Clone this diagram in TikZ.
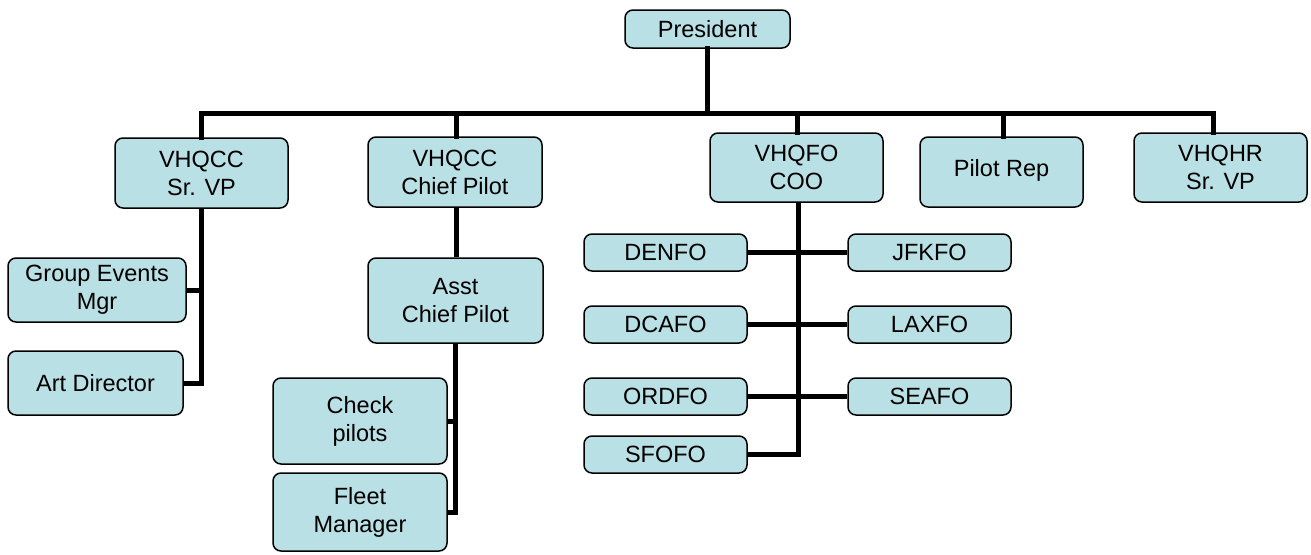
\documentclass[tikz,border=0pt]{standalone}
\usepackage{fontspec}
\setmainfont{Liberation Sans}
\definecolor{boxfill}{RGB}{185,224,228}
\begin{document}
\begin{tikzpicture}[x=1pt,y=-1pt,
  box/.style={draw=black, line width=1.5pt, fill=boxfill, rounded corners=8pt,
    align=center, inner sep=0pt, font=\fontsize{23.5}{28}\selectfont},
  conn/.style={line width=5pt, line cap=rect}]
\useasboundingbox (0,0) rectangle (1311,554);
\coordinate (barL) at (202,113);
\coordinate (barR) at (1213,113);
% nodes
\node[box, minimum width=165pt, minimum height=38pt] (pres) at (707.5,29) {President};
\node[box, minimum width=173pt, minimum height=70pt] (vp) at (201.5,173) {VHQCC\\Sr. VP};
\node[box, minimum width=174pt, minimum height=70pt] (cp) at (455,172) {VHQCC\\Chief Pilot};
\node[box, minimum width=175pt, minimum height=85pt] (asst) at (455.5,300.5) {Asst\\Chief Pilot};
\node[box, minimum width=174pt, minimum height=86pt] (check) at (360,421) {Check\\pilots};
\node[box, minimum width=174pt, minimum height=78pt] (fleet) at (360,512) {Fleet\\Manager};
\node[box, minimum width=178pt, minimum height=64pt] (gem) at (97,290) {Group Events\\Mgr};
\node[box, minimum width=175pt, minimum height=64pt] (art) at (95.5,383) {Art Director};
\node[box, minimum width=173pt, minimum height=69pt] (coo) at (796.5,167.5) {VHQFO\\COO};
\node[box, minimum width=163pt, minimum height=37pt] (denfo) at (665.5,252.5) {DENFO};
\node[box, minimum width=163pt, minimum height=37pt] (jfkfo) at (929.5,252.5) {JFKFO};
\node[box, minimum width=163pt, minimum height=37pt] (dcafo) at (665.5,324.5) {DCAFO};
\node[box, minimum width=163pt, minimum height=37pt] (laxfo) at (929.5,324.5) {LAXFO};
\node[box, minimum width=163pt, minimum height=37pt] (ordfo) at (665.5,396.5) {ORDFO};
\node[box, minimum width=163pt, minimum height=37pt] (seafo) at (929.5,396.5) {SEAFO};
\node[box, minimum width=163pt, minimum height=37pt] (sfofo) at (665.5,454.5) {SFOFO};
\node[box, minimum width=163pt, minimum height=70pt] (prep) at (1001.5,172) {\raisebox{9pt}{Pilot Rep}};
\node[box, minimum width=173pt, minimum height=69pt] (hr) at (1220.5,167.5) {VHQHR\\Sr. VP};
% connectors
\draw[conn] (barL) -- (barR);
\draw[conn] (pres.south) -- (pres.south |- barL);
\draw[conn] (vp.north) -- (vp.north |- barL);
\draw[conn] ([xshift=1pt]cp.north) -- ([xshift=1pt]cp.north |- barL);
\draw[conn] ([xshift=1pt]coo.north) -- ([xshift=1pt]coo.north |- barL);
\draw[conn] ([xshift=1.5pt]prep.north) -- ([xshift=1.5pt]prep.north |- barL);
\draw[conn] (barR) -- (barR |- hr.north);
% VP subtree
\draw[conn, line cap=butt] (vp.south) |- (art.east);
\draw[conn, line cap=butt] (gem.east) -- (gem.east -| vp.south);
% Chief pilot subtree
\draw[conn, line cap=butt] ([xshift=1pt]cp.south) -- ([xshift=1pt]cp.south |- asst.north);
\draw[conn, line cap=butt] (asst.south) |- (fleet.east);
\draw[conn, line cap=butt] (check.east) -- (check.east -| asst.south);
% COO subtree
\draw[conn, line cap=butt] ([xshift=1.5pt]coo.south) |- (sfofo.east);
\draw[conn, line cap=butt] (denfo.east) -- (jfkfo.west);
\draw[conn, line cap=butt] (dcafo.east) -- (laxfo.west);
\draw[conn, line cap=butt] (ordfo.east) -- (seafo.west);
\end{tikzpicture}
\end{document}
